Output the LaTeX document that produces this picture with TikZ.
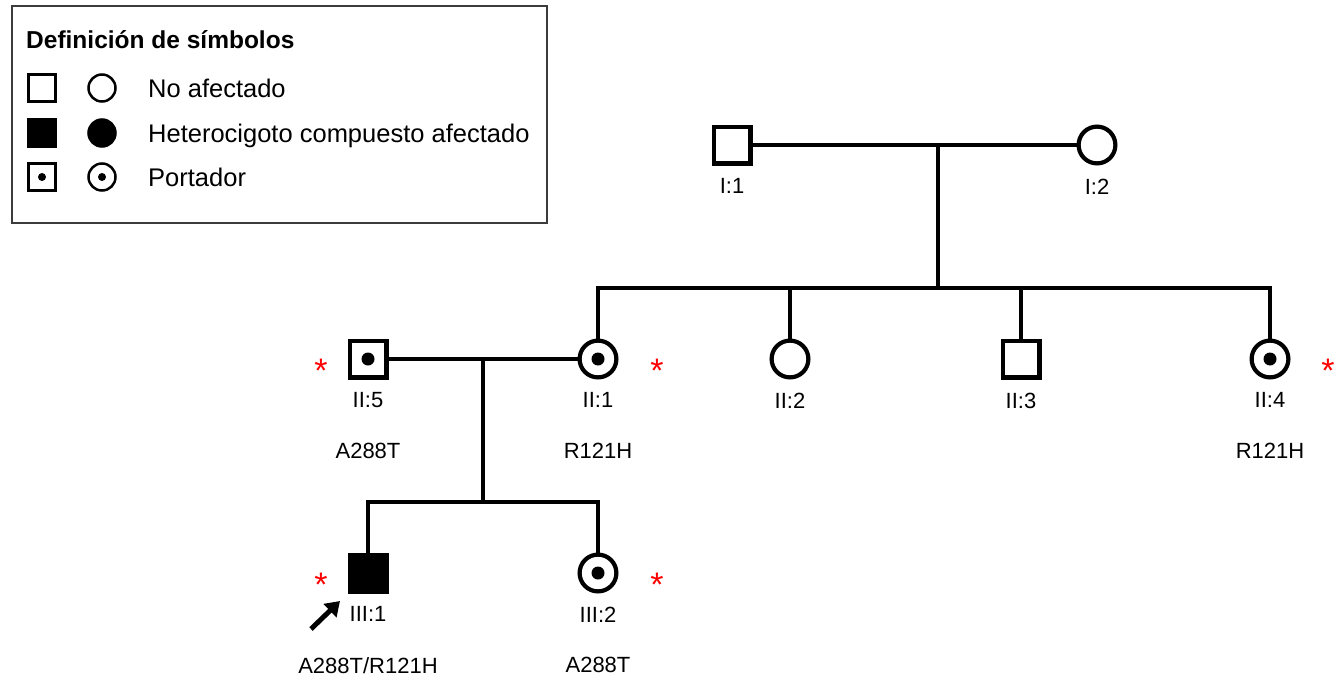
\documentclass[tikz,border=0pt]{standalone}
\usepackage{fontspec}
\setmainfont{Liberation Sans}
\usetikzlibrary{arrows.meta,positioning}
\definecolor{pdred}{RGB}{255,0,0}
\definecolor{pdframe}{RGB}{60,60,60}

\begin{document}
\begin{tikzpicture}[x=1pt,y=-1pt,>=Latex,font=\fontsize{22}{24}\selectfont,
    every node/.style={align=center,inner sep=0pt},
    male/.style={draw,rectangle,minimum size=36.8pt,line width=4.2pt},
    female/.style={draw,circle,minimum size=36.8pt,line width=4.2pt},
    carrier/.style={path picture={\fill (path picture bounding box.center) circle (6.5pt);}},
    affected/.style={fill=black},
    keym/.style={draw,rectangle,minimum size=27pt,line width=2.5pt},
    keyf/.style={draw,circle,minimum size=27pt,line width=2.5pt},
    keycarrier/.style={path picture={\fill (path picture bounding box.center) circle (4pt);}},
    idlbl/.style={below=13pt of #1},
    mutlbl/.style={below=35pt of #1},
    tested/.style={text=pdred,font=\fontsize{34}{34}\selectfont,anchor=base},
    link/.style={line width=3.5pt},
    proband/.style={-{Triangle[length=14pt,width=18pt]},line width=5pt}]
    \useasboundingbox (0,0) rectangle (1336,680);

    \draw[pdframe,line width=1.5pt] (12,6) rectangle (547,223);
    \begin{scope}[font=\fontsize{25.5}{27}\selectfont]
    \node[anchor=base west,font=\fontsize{24.5}{26}\selectfont\bfseries] (ktitle) at (26,48) {Definición de símbolos};
    \node[keym] (km0) at (42,88) {};
    \node[keyf] (kf0) at (102,88) {};
    \node[anchor=base west] (kt0) at (148,97) {No afectado};
    \node[keym,affected] (km1) at (42,133) {};
    \node[keyf,affected] (kf1) at (102,133) {};
    \node[anchor=base west] (kt1) at (148,142) {Heterocigoto compuesto afectado};
    \node[keym,keycarrier] (km2) at (42,177) {};
    \node[keyf,keycarrier] (kf2) at (102,177) {};
    \node[anchor=base west] (kt2) at (148,186) {Portador};
    \end{scope}

    \node[male] (i1) at (732,145) {};
    \node[female] (i2) at (1097,145) {};
    \node[idlbl=i1] (i1l) {I:1};
    \node[idlbl=i2] (i2l) {I:2};

    \node[male,carrier] (ii5) at (368,359) {};
    \node[female,carrier] (ii1) at (598,359) {};
    \node[female] (ii2) at (790,359) {};
    \node[male] (ii3) at (1021,359) {};
    \node[female,carrier] (ii4) at (1270,359) {};
    \node[idlbl=ii5] (ii5l) {II:5};
    \node[idlbl=ii1] (ii1l) {II:1};
    \node[idlbl=ii2] (ii2l) {II:2};
    \node[idlbl=ii3] (ii3l) {II:3};
    \node[idlbl=ii4] (ii4l) {II:4};
    \node[mutlbl=ii5l] (ii5m) {A288T};
    \node[mutlbl=ii1l] (ii1m) {R121H};
    \node[mutlbl=ii4l] (ii4m) {R121H};

    \node[male,affected] (iii1) at (368,573) {};
    \node[female,carrier] (iii2) at (598,573) {};
    \node[idlbl=iii1] (iii1l) {III:1};
    \node[idlbl=iii2] (iii2l) {III:2};
    \node[mutlbl=iii1l] (iii1m) {A288T/R121H};
    \node[mutlbl=iii2l] (iii2m) {A288T};

    \node[tested] (t1) at (321,382) {*};
    \node[tested] (t2) at (657,382) {*};
    \node[tested] (t3) at (1328,382) {*};
    \node[tested] (t4) at (321,596) {*};
    \node[tested] (t5) at (657,596) {*};

    \coordinate (m1) at (938,145);
    \coordinate (s1) at (938,288);
    \coordinate (m2) at (483,359);
    \coordinate (s2) at (483,502);
    \draw[link] (i1) -- (i2);
    \draw[link] (m1) -- (s1);
    \draw[link] (ii1.north) |- (s1) -| (ii4.north);
    \draw[link] (ii2.north) -- (ii2.north |- s1);
    \draw[link] (ii3.north) -- (ii3.north |- s1);
    \draw[link] (ii5) -- (ii1);
    \draw[link] (m2) -- (s2);
    \draw[link] (iii1.north) |- (s2) -| (iii2.north);

    \coordinate (pb) at (311,629);
    \coordinate (pa) at (340,601);
    \draw[proband] (pb) -- (pa);
  \end{tikzpicture}
\end{document}
